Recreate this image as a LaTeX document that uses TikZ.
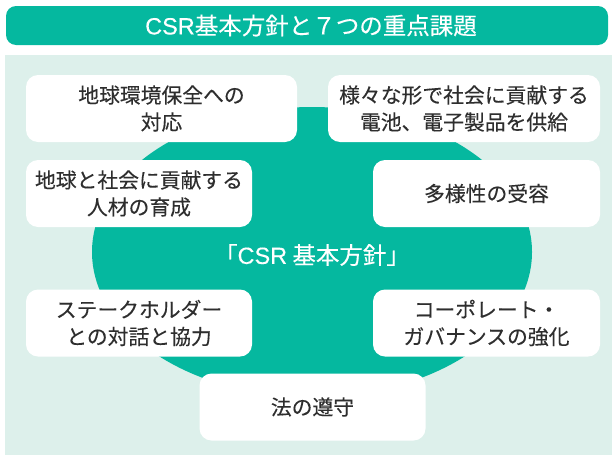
\documentclass[tikz,border=0pt]{standalone}
\usepackage{fontspec}
\setmainfont{Noto Sans CJK JP}[FakeBold=0.2]
\newfontfamily\latinfont{Liberation Sans}[FakeBold=0.2]
\definecolor{csrteal}{HTML}{05B89F}
\definecolor{csrbg}{HTML}{DDF0EB}
\definecolor{csrtext}{HTML}{2E2E2E}
\begin{document}
\begin{tikzpicture}[x=1pt,y=-1pt,
  box/.style={fill=white,rounded corners=12pt,inner sep=0pt,align=center,
    text=csrtext,font=\fontsize{20.8}{27}\selectfont},
  titletext/.style={text=white,font=\fontsize{23.5}{26}\selectfont},
  centertext/.style={text=white,font=\fontsize{23.5}{26}\selectfont}]
\useasboundingbox (0,0) rectangle (612,455);
\fill[csrbg] (5,55) rectangle (612,455);
\fill[csrteal,rounded corners=10pt] (6,6) rectangle (608,45);
\node[titletext] (title) at (311,25.5) {{\latinfont CSR}基本方針と７つの重点課題};
\fill[csrteal] (312,252) ellipse [x radius=220, y radius=145];
\node[centertext] (core) at (312,255) {「{\latinfont CSR} 基本方針」};
\node[box,minimum width=271pt,minimum height=67pt] (b1) at (161.5,108.5) {地球環境保全への\\対応};
\node[box,minimum width=272pt,minimum height=67pt] (b2) at (464,108.5) {様々な形で社会に貢献する\\電池、電子製品を供給};
\node[box,minimum width=226pt,minimum height=67pt] (b3) at (139,193.5) {地球と社会に貢献する\\人材の育成};
\node[box,minimum width=227pt,minimum height=67pt] (b4) at (486.5,193.5) {多様性の受容};
\node[box,minimum width=226pt,minimum height=67pt] (b5) at (139,323) {ステークホルダー\\との対話と協力};
\node[box,minimum width=227pt,minimum height=67pt] (b6) at (486.5,323) {コーポレート・\\ガバナンスの強化};
\node[box,minimum width=226pt,minimum height=67pt] (b7) at (312.5,407) {法の遵守};
\end{tikzpicture}
\end{document}
